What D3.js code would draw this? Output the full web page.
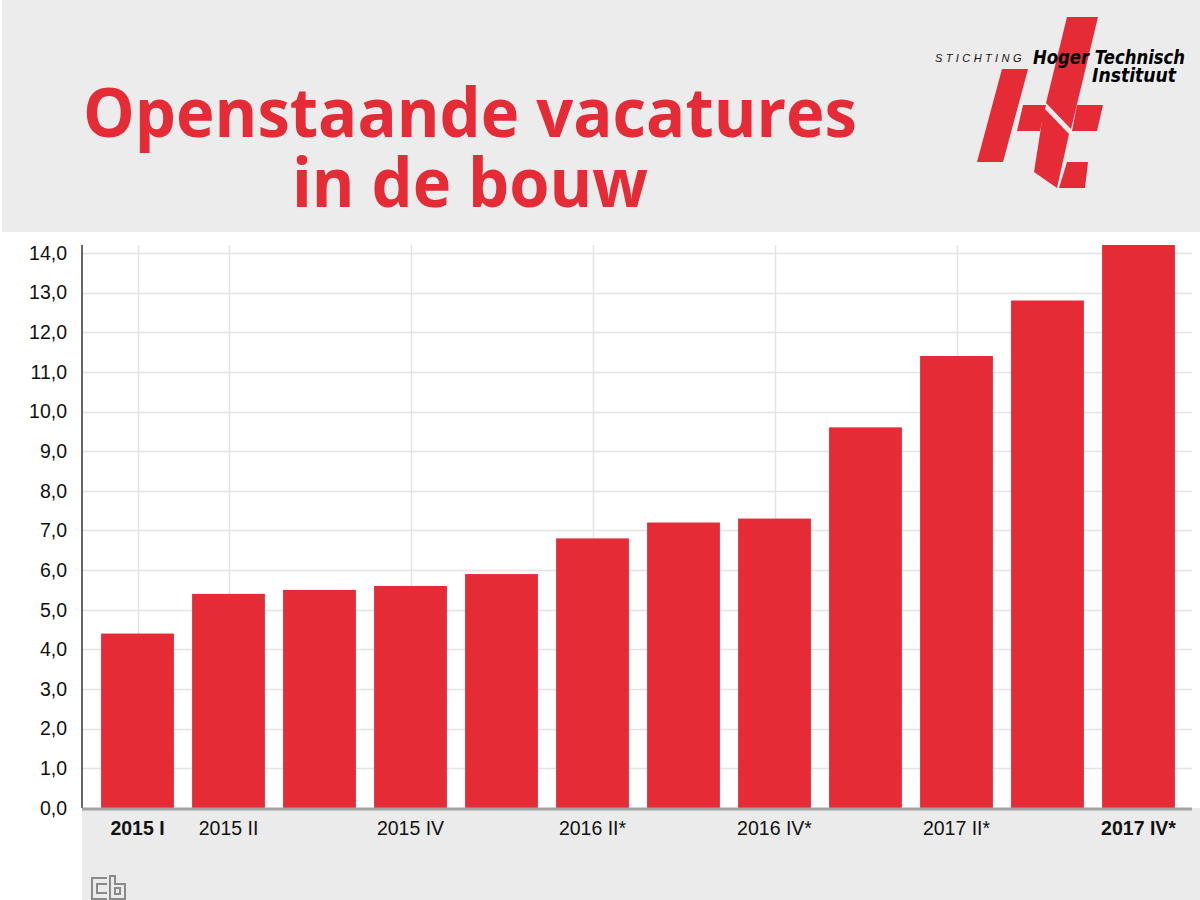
<!DOCTYPE html>
<html><head><meta charset="utf-8">
<script src="https://cdn.jsdelivr.net/npm/d3@7"></script>
<style>body{margin:0;background:#fff;}svg{display:block;}</style>
</head><body>
<script>
const categories = ["2015 I","2015 II","2015 III","2015 IV","2016 I","2016 II*","2016 III*","2016 IV*","2017 I*","2017 II*","2017 III*","2017 IV*"];
const values = [4.4,5.4,5.5,5.6,5.9,6.8,7.2,7.3,9.6,11.4,12.8,14.2];
const shownLabels = ["2015 I","2015 II","2015 IV","2016 II*","2016 IV*","2017 II*","2017 IV*"];
const boldLabels = ["2015 I","2017 IV*"];
const yTicks = [0,1,2,3,4,5,6,7,8,9,10,11,12,13,14];
const titleLines = ["Openstaande vacatures","in de bouw"];

const W=1200,H=900, red="#e42b36";
const svg=d3.select("body").append("svg").attr("width",W).attr("height",H);

// header
svg.append("rect").attr("x",2).attr("y",0).attr("width",W-2).attr("height",232).attr("fill","#ececec");
svg.append("text").attr("x",83).attr("y",137).attr("textLength",774).attr("lengthAdjust","spacingAndGlyphs")
  .attr("font-family","Open Sans").attr("font-weight",700).attr("font-size",68).attr("fill",red).text(titleLines[0]);
svg.append("text").attr("x",292).attr("y",207).attr("textLength",356).attr("lengthAdjust","spacingAndGlyphs")
  .attr("font-family","Open Sans").attr("font-weight",700).attr("font-size",68).attr("fill",red).text(titleLines[1]);

// logo
const logo=svg.append("g");
const polys=[
 [[1002,69],[1028,69],[1003,162],[977,162]],
 [[1023,105],[1046,105],[1040,131],[1017,131]],
 [[1067,17],[1098,17],[1071,129],[1046,103]],
 [[1077,105],[1103,105],[1097,131],[1072,131]],
 [[1044,108],[1069,134],[1057,188],[1034,172]],
 [[1067,162],[1088,162],[1085,188],[1059,188]]
];
polys.forEach(p=>logo.append("polygon").attr("points",p.map(d=>d.join(",")).join(" ")).attr("fill",red));
logo.append("text").attr("x",935).attr("y",62).attr("font-family","Liberation Sans").attr("font-style","italic")
  .attr("font-size",11).attr("letter-spacing",3.4).attr("fill","#111").text("STICHTING");
logo.append("text").attr("x",1033).attr("y",64).attr("font-family","DejaVu Sans").attr("font-style","italic").attr("font-weight",700)
  .attr("font-size",19).attr("textLength",152).attr("lengthAdjust","spacingAndGlyphs").attr("fill","#000").text("Hoger Technisch");
logo.append("text").attr("x",1092).attr("y",82).attr("font-family","DejaVu Sans").attr("font-style","italic").attr("font-weight",700)
  .attr("font-size",19).attr("textLength",84).attr("lengthAdjust","spacingAndGlyphs").attr("fill","#000").text("Instituut");

// chart
const x=d3.scaleBand().domain(categories).range([92,1184]).paddingInner(0.2).paddingOuter(0.1);
const y=d3.scaleLinear().domain([0,14.2]).range([808,245]);
const left=82,right=1192;

svg.append("rect").attr("x",left).attr("y",808).attr("width",W-left).attr("height",92).attr("fill","#ebebeb");

const g=svg.append("g");
g.selectAll(".hg").data(yTicks.filter(d=>d>0)).join("line")
  .attr("x1",left).attr("x2",right).attr("y1",d=>Math.round(y(d))+0.5).attr("y2",d=>Math.round(y(d))+0.5)
  .attr("stroke","#e3e3e3").attr("stroke-width",1.5);
g.selectAll(".vg").data(shownLabels).join("line")
  .attr("x1",d=>Math.round(x(d)+x.bandwidth()/2)+0.5).attr("x2",d=>Math.round(x(d)+x.bandwidth()/2)+0.5)
  .attr("y1",245).attr("y2",808).attr("stroke","#e3e3e3").attr("stroke-width",1.5);

g.selectAll(".bar").data(values).join("rect")
  .attr("x",(d,i)=>x(categories[i])).attr("width",x.bandwidth())
  .attr("y",d=>y(d)).attr("height",d=>y(0)-y(d)).attr("fill",red);

// axes
const ya=d3.axisLeft(y).tickValues(yTicks).tickSize(0).tickPadding(15).tickFormat(d=>d3.format(".1f")(d).replace(".",","));
const yg=svg.append("g").attr("transform",`translate(${left},0)`).call(ya);
yg.select(".domain").remove();
yg.selectAll("text").attr("font-family","Liberation Sans").attr("font-size",19.5).attr("fill","#111");
svg.append("line").attr("x1",left).attr("x2",left).attr("y1",245).attr("y2",808).attr("stroke","#333").attr("stroke-width",1.5);
svg.append("line").attr("x1",left).attr("x2",right).attr("y1",809).attr("y2",809).attr("stroke","#a3a3a3").attr("stroke-width",3);

const xa=d3.axisBottom(x).tickValues(shownLabels).tickSize(0).tickPadding(11);
const xg=svg.append("g").attr("transform","translate(0,810)").call(xa);
xg.select(".domain").remove();
xg.selectAll("text").attr("font-family","Liberation Sans").attr("font-size",19.5).attr("fill","#111")
  .attr("font-weight",d=>boldLabels.includes(d)?700:400);

// cb logo
const cb=svg.append("g").attr("fill","none").attr("stroke","#8a8a8a").attr("stroke-width",2);
cb.append("path").attr("d","M107,878 L92,878 L92,899 L107,899 M107,884 L97,884 L97,893 L107,893");
cb.append("path").attr("d","M110,876 L110,899 L125,899 L125,884 L115,884 L115,876 Z M115,888 L120,888 L120,894 L115,894 Z");
</script>
</body></html>
